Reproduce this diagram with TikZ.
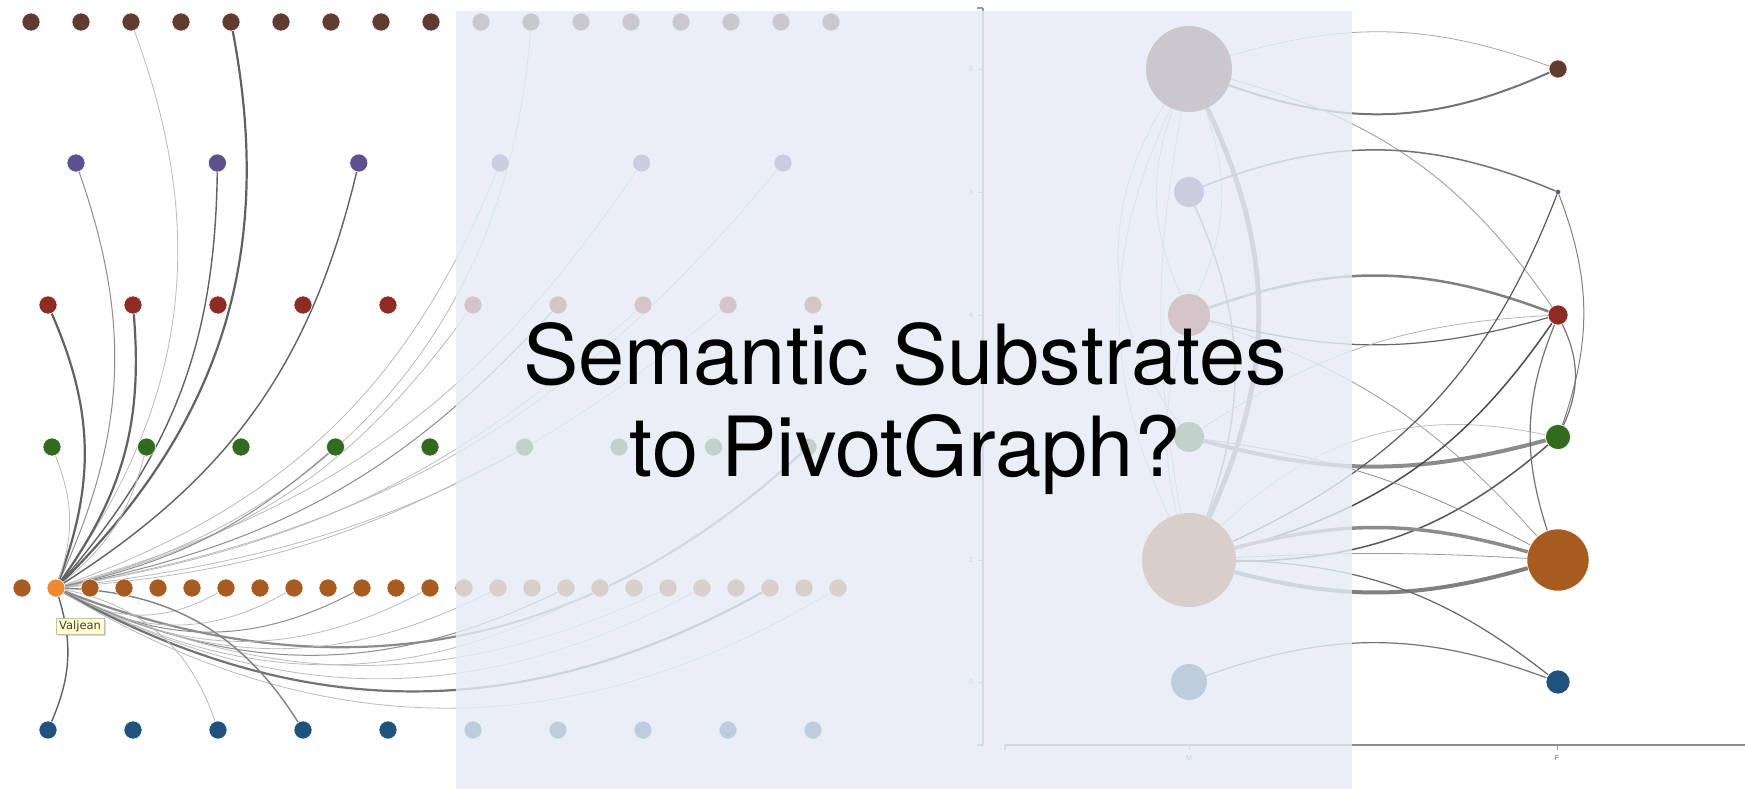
\documentclass[tikz,border=0pt]{standalone}
\usepackage{fontspec}
\setmainfont{TeX Gyre Heros}
\newfontfamily\tipfont{DejaVu Sans}
\usetikzlibrary{shadows}
\definecolor{brownC}{RGB}{95,59,48}
\definecolor{purpleC}{RGB}{94,80,140}
\definecolor{redC}{RGB}{142,43,34}
\definecolor{greenC}{RGB}{50,107,30}
\definecolor{orangeC}{RGB}{166,92,31}
\definecolor{valC}{RGB}{240,138,48}
\definecolor{blueC}{RGB}{31,83,125}
\definecolor{veil}{RGB}{229,236,245}
\definecolor{tipC}{RGB}{255,255,204}
\pgfdeclarelayer{bg}
\pgfdeclarelayer{paper}
\pgfsetlayers{paper,bg,main}
\begin{document}
\begin{tikzpicture}[x=1pt,y=1pt,
  dot/.style={circle,inner sep=0pt,minimum size=18pt,draw=white,line width=0.5pt},
  mdot/.style={circle,inner sep=0pt},
  fdot/.style={circle,inner sep=0pt,draw=white,line width=0.5pt},
  lite/.style={draw=black!27,line width=0.8pt},
  mid/.style={draw=black!45,line width=1pt},
  dark/.style={draw=black!62,line width=1.4pt},
  heavy/.style={draw=black!62,line width=2.2pt},
  axisline/.style={draw=black!40,line width=1.2pt},
  ticklab/.style={text=black!55,font=\fontsize{7}{7}\selectfont,inner sep=0pt},
  title/.style={font=\fontsize{83}{92}\selectfont,text=black,inner sep=0pt,anchor=base},
  tip/.style={fill=tipC,draw=black!25,line width=0.4pt,inner xsep=3pt,inner ysep=2.5pt,
    font=\tipfont\fontsize{11.5}{12}\selectfont,text=black!75,
    drop shadow={shadow xshift=1.5pt,shadow yshift=-2pt,opacity=0.3}}]
\begin{pgfonlayer}{paper}
\fill[white] (0,0) rectangle (1745,-789);
\end{pgfonlayer}
\path[use as bounding box] (0,0) rectangle (1745,-789);

% ---------- semantic substrates nodes ----------
\foreach \i in {0,...,16} \node[dot,fill=brownC] (b\i) at ({31+50*\i},-22) {};
\foreach \i in {0,...,5} \node[dot,fill=purpleC] (p\i) at ({76+141.4*\i},-163) {};
\foreach \i in {0,...,9} \node[dot,fill=redC] (r\i) at ({48+85*\i},-305) {};
\foreach \i in {0,...,8} \node[dot,fill=greenC] (g\i) at ({52+94.5*\i},-447) {};
\foreach \i in {0,2,3,...,24} \node[dot,fill=orangeC] (o\i) at ({22+34*\i},-588) {};
\node[dot,fill=valC] (o1) at (56,-588) {};
\foreach \i in {0,...,9} \node[dot,fill=blueC] (bl\i) at ({48+85*\i},-730) {};

% ---------- pivotgraph nodes ----------
\node[mdot,fill=brownC,minimum size=86pt] (Mb) at (1189,-69) {};
\node[mdot,fill=purpleC,minimum size=30pt] (Mp) at (1189,-192) {};
\node[mdot,fill=redC,minimum size=42pt] (Mr) at (1189,-315) {};
\node[mdot,fill=greenC,minimum size=30pt] (Mg) at (1189,-437) {};
\node[mdot,fill=orangeC,minimum size=94pt] (Mo) at (1189,-560) {};
\node[mdot,fill=blueC,minimum size=36pt] (Mbl) at (1189,-682) {};
\node[fdot,fill=brownC,minimum size=18pt] (Fb) at (1558,-69) {};
\node[fdot,fill=purpleC,minimum size=5pt,line width=0.2pt] (Fp) at (1558,-192) {};
\node[fdot,fill=redC,minimum size=20pt] (Fr) at (1558,-315) {};
\node[fdot,fill=greenC,minimum size=25pt] (Fg) at (1558,-437) {};
\node[fdot,fill=orangeC,minimum size=62pt] (Fo) at (1558,-560) {};
\node[fdot,fill=blueC,minimum size=24pt] (Fbl) at (1558,-682) {};

% ---------- axes ----------
\coordinate (vtop) at (983,-8);
\coordinate (vbot) at (983,-745);
\coordinate (hl) at (1005,-745);
\coordinate (hr) at (1745,-745);
\draw[axisline] (vtop) -- (vbot);
\draw[axisline] (vtop) -- ++(-6,0);
\draw[axisline] (vbot) -- ++(-6,0);
\draw[axisline,draw=black!45,line width=1.6pt] (hl) -- (hr);
\draw[axisline] (hl) -- ++(0,-5);
\foreach \y/\l in {69/5,192/3,315/4,437/1,560/2,682/0}{
  \draw[axisline,line width=0.8pt] (983,-\y) -- ++(-5,0);
  \node[ticklab] (t\l) at (971,-\y) {\l};
}
\draw[axisline,line width=0.8pt] (1189,-745) -- ++(0,-5);
\draw[axisline,line width=0.8pt] (1557,-745) -- ++(0,-5);
\node[ticklab] (labM) at (1189,-758) {M};
\node[ticklab,text=black!60] (labF) at (1557,-758) {F};

\begin{pgfonlayer}{bg}
% ---------- semantic substrates edges (all to Valjean) ----------
\draw[lite] (o1) to[bend right=28] (b2);
\draw[heavy] (o1) to[bend right=28] (b4);
\draw[lite] (o1) to[bend right=36] (b10);
\draw[mid] (o1) to[bend right=22] (p0);
\draw[dark] (o1) to[bend right=20] (p1);
\draw[dark] (o1) to[bend right=22] (p2);
\draw[lite] (o1) to[bend right=24] (p3);
\draw[lite] (o1) to[bend right=20] (p4);
\draw[lite] (o1) to[bend right=20] (p5);
\draw[heavy] (o1) to[bend right=22] (r0);
\draw[heavy] (o1) to[bend right=20] (r1);
\draw[lite] (o1) to[bend right=20] (r5);
\draw[mid] (o1) to[bend right=18] (r6);
\draw[lite] (o1) to[bend right=16] (r7);
\draw[lite] (o1) to[bend right=16] (r8);
\draw[lite] (o1) to[bend right=20] (g0);
\draw[lite] (o1) to[bend right=18] (g1);
\draw[mid] (o1) to[bend right=14] (g3);
\draw[lite] (o1) to[bend right=12] (g5);
\draw[heavy,draw=black!45] (o1) to[bend right=32] (g8);
\draw[lite] (o1) to[bend right=30] (o6);
\draw[lite] (o1) to[bend right=30] (o8);
\draw[mid] (o1) to[bend right=28] (o10);
\draw[lite] (o1) to[bend right=28] (o12);
\draw[lite] (o1) to[bend right=27] (o14);
\draw[mid] (o1) to[bend right=26] (o16);
\draw[lite] (o1) to[bend right=28] (o17);
\draw[lite] (o1) to[bend right=25] (o19);
\draw[lite] (o1) to[bend right=28] (o20);
\draw[heavy,draw=black!55] (o1) to[bend right=29] (o22);
\draw[lite] (o1) to[bend right=31] (o24);
\draw[dark] (o1) to[bend left=20] (bl0);
\draw[lite] (o1) to[bend left=30] (bl2);
\draw[dark,draw=black!50] (o1) to[bend left=28] (bl3);

% ---------- pivotgraph edges ----------
\draw[draw=black!45,line width=5pt] (Mb) to[bend left=25] (Mo);
\draw[lite] (Mb) to[bend right=25] (Mo);
\draw[lite] (Mb) to[bend right=10] (Mo);
\draw[mid,line width=1.5pt] (Mp) to[bend left=22] (Mo);
\draw[lite] (Mb) to[bend left=22] (Mr);
\draw[lite] (Mb) to[bend right=22] (Mr);
\draw[lite] (Mr) to[bend right=15] (Mo);
\draw[lite] (Mb) to[bend right=35] (Mg);

\draw[draw=black!35,line width=0.8pt] (Mb) to[bend left=18] (Fb);
\draw[draw=black!55,line width=2pt] (Mb) to[bend right=22] (Fb);
\draw[draw=black!35,line width=1pt] (Mb) to[bend left=20] (Fr);
\draw[draw=black!55,line width=1.5pt] (Mp) to[bend left=22] (Fp);
\draw[draw=black!50,line width=2.5pt] (Mr) to[bend left=20] (Fr);
\draw[draw=black!60,line width=1.2pt] (Mr) to[bend right=15] (Fr);
\draw[draw=black!30,line width=0.8pt] (Mg) to[bend left=15] (Fr);
\draw[draw=black!40,line width=0.8pt] (Mr) to[bend left=15] (Fo);
\draw[draw=black!45,line width=4pt] (Mg) to[bend right=15] (Fg);
\draw[draw=black!25,line width=0.8pt] (Mo) to[bend left=28] (Fg);
\draw[draw=black!65,line width=1.5pt] (Mo) to[bend right=20] (Fg);
\draw[draw=black!65,line width=1.2pt] (Mo) to[bend right=22] (Fp);
\draw[draw=black!70,line width=1.5pt] (Mo) to[bend right=20] (Fr);
\draw[draw=black!45,line width=3.5pt] (Mo) to[bend left=15] (Fo);
\draw[draw=black!40,line width=0.8pt] (Mo) to[bend left=3] (Fo);
\draw[draw=black!50,line width=4pt] (Mo) to[bend right=15] (Fo);
\draw[draw=black!60,line width=1.2pt] (Mo) to[bend left=18] (Fbl);
\draw[draw=black!55,line width=1.2pt] (Mbl) to[bend left=20] (Fbl);
\draw[draw=black!45,line width=0.8pt] (Mg) to[bend left=10] (Fo);
\draw[draw=black!50,line width=1pt] (Fp) to[bend left=20] (Fg);
\draw[draw=black!55,line width=1.2pt] (Fr) to[bend left=25] (Fg);
\draw[draw=black!55,line width=1.2pt] (Fr) to[bend right=20] (Fo);
\end{pgfonlayer}

% ---------- veil ----------
\fill[veil,fill opacity=0.8] (456,-11) rectangle (1352,-789);

% ---------- tooltip ----------
\node[tip,anchor=north west] (tipV) at (56,-618) {Valjean};

% ---------- title ----------
\node[title] (title1) at (905,-384) {Semantic Substrates};
\node[title] (title2) at (905,-476) {to PivotGraph?};
\end{tikzpicture}
\end{document}
